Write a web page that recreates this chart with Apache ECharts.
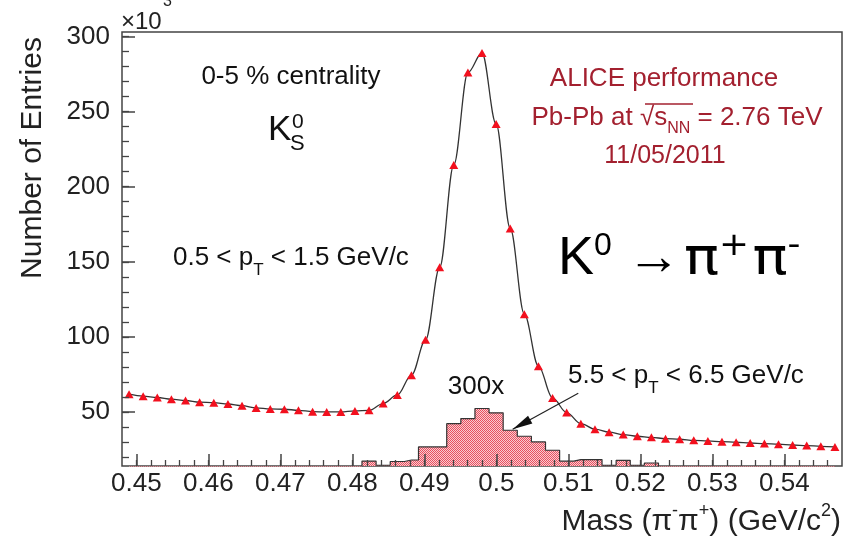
<!DOCTYPE html>
<html><head><meta charset="utf-8">
<script src="https://cdn.jsdelivr.net/npm/echarts@6/dist/echarts.min.js"></script>
<style>html,body{margin:0;padding:0;background:#fff}#c{width:854px;height:539px}</style>
</head><body><div id="c"></div>
<script>
// ---- data (x = pi-pi+ invariant mass, GeV/c^2; y in units of 10^3 entries) ----
const massBins = [0.44898,0.45094,0.45290,0.45486,0.45682,0.45878,0.46075,0.46271,0.46467,0.46663,
  0.46859,0.47055,0.47251,0.47447,0.47643,0.47839,0.48035,0.48231,0.48427,0.48624,
  0.48820,0.49016,0.49212,0.49408,0.49604,0.49800,0.49996,0.50192,0.50388,0.50584,
  0.50780,0.50976,0.51173,0.51369,0.51565,0.51761,0.51957,0.52153,0.52349,0.52545,
  0.52741,0.52937,0.53133,0.53329,0.53525,0.53722,0.53918,0.54114,0.54310,0.54506,0.54702];
// 0.5 < pT < 1.5 GeV/c (red triangles + fit)
const lowPtEntries = [61.8,60.5,59.6,58.5,57.6,56.5,56.2,55.3,54.2,52.7,
  52.0,51.8,51.1,50.2,50.0,50.0,50.7,51.1,55.6,61.3,
  74.5,98.0,146.3,214.5,276.0,289.0,241.8,172.2,115.1,80.5,
  59.3,49.6,42.2,38.5,36.5,34.9,33.8,33.1,32.2,31.8,
  31.1,30.7,30.2,29.8,29.3,28.9,28.5,28.0,27.6,27.1,26.7];
// 5.5 < pT < 6.5 GeV/c, scaled 300x (hatched histogram)
const highPtScaled = [0,0,0,0,0,0,0,0,0,0,
  0,0,0,0,0,0,0,17.3,14.5,17.0,
  18.0,26.7,26.7,42.2,45.6,52.3,49.4,37.8,33.8,30.0,
  24.5,17.2,18.3,18.3,14.5,17.8,14.5,16.0,0,0,
  0,0,0,0,0,0,0,0,0,0,0];
const xTickLabels = [0.45,0.46,0.47,0.48,0.49,0.5,0.51,0.52,0.53,0.54];
const yTickLabels = [50,100,150,200,250,300];
const xMinorTicks = []; for (let m = 450; m <= 546; m += 2) xMinorTicks.push(m / 1000);
const yMinorTicks = []; for (let v = 20; v <= 300; v += 10) yMinorTicks.push(v);
// arrow annotation (data coords): from label to histogram
const arrowFrom = [0.51137, 62.5];
const arrowTo = [0.50226, 38.5];

const FONT = '"Liberation Sans", Arial, Helvetica, sans-serif';
const RED_TXT = '#a3202f';

// hatched fill pattern
const pat = document.createElement('canvas');
pat.width = 2; pat.height = 2;
const pctx = pat.getContext('2d');
pctx.fillStyle = '#f9ccd1'; pctx.fillRect(0,0,2,2);
pctx.fillStyle = '#e8505f'; pctx.fillRect(0,0,1,1); pctx.fillRect(1,1,1,1);

const chart = echarts.init(document.getElementById('c'), null, {renderer:'canvas'});

function txt(x, y, text, size, opt) {
  opt = opt || {};
  return {type:'text', x:x, y:y, z:100, rotation: opt.rotation || 0,
    style:Object.assign({text:text, fontSize:size, fontFamily:FONT, fill: opt.fill || '#111',
      align: opt.align || 'left', verticalAlign:'middle',
      textAlign: opt.align || 'left', textVerticalAlign:'middle'}, opt.style || {})};
}
function rich(base, small, lh, fill, extra, family) {
  const f = family || FONT;
  const r = {
    n:{fontSize:base, fontFamily:f, fill:fill, color:fill, lineHeight:lh, verticalAlign:'middle'},
    sub:{fontSize:small, fontFamily:f, fill:fill, color:fill, lineHeight:lh, verticalAlign:'bottom'},
    sup:{fontSize:small, fontFamily:f, fill:fill, color:fill, lineHeight:lh, verticalAlign:'top'}
  };
  return Object.assign(r, extra || {});
}
function richText(x, y, text, base, small, lh, fill, align, extra, scaleX, family) {
  return {type:'text', x:x, y:y, z:100, scaleX: scaleX || 1, style:{text:text, rich:rich(base, small, lh, fill, extra, family),
    fontSize:base, fontFamily:family || FONT, fill:fill, lineHeight:lh,
    align:align, verticalAlign:'middle', textAlign:align, textVerticalAlign:'middle'}};
}

const axisLabelStyle = {fontSize:26, fontFamily:FONT, color:'#222'};

const option = {
  animation:false,
  backgroundColor:'#fff',
  grid:{left:122, right:12, top:32, bottom:73, show:true, borderColor:'#444', borderWidth:1.5, backgroundColor:'transparent'},
  xAxis:[
    {type:'value', min:0.448, max:0.548, position:'bottom', z:10,
      axisLine:{show:false}, splitLine:{show:false},
      axisTick:{show:true, inside:true, length:12, customValues:xTickLabels, lineStyle:{color:'#444', width:1.5}},
      axisLabel:Object.assign({show:true, margin:5, customValues:xTickLabels, formatter:v => String(v)}, axisLabelStyle)},
    {type:'value', min:0.448, max:0.548, position:'bottom', z:10,
      axisLine:{show:false}, splitLine:{show:false}, axisLabel:{show:false},
      axisTick:{show:true, inside:true, length:6, customValues:xMinorTicks, lineStyle:{color:'#444', width:1.3}}}
  ],
  yAxis:[
    {type:'value', min:14, max:303, position:'left', z:10,
      axisLine:{show:false}, splitLine:{show:false},
      axisTick:{show:true, inside:true, length:13, customValues:yTickLabels, lineStyle:{color:'#444', width:1.5}},
      axisLabel:Object.assign({show:true, margin:12, customValues:yTickLabels}, axisLabelStyle)},
    {type:'value', min:14, max:303, position:'left', z:10,
      axisLine:{show:false}, splitLine:{show:false}, axisLabel:{show:false},
      axisTick:{show:true, inside:true, length:7, customValues:yMinorTicks, lineStyle:{color:'#444', width:1.3}}}
  ],
  series:[
    {type:'line', name:'5.5<pT<6.5 x300', xAxisIndex:0, yAxisIndex:0, z:2,
      data: massBins.map((m,i) => [m, highPtScaled[i]]),
      step:'middle', symbol:'none', clip:true,
      lineStyle:{color:'#333', width:1.2},
      areaStyle:{color:{image:pat, repeat:'repeat'}, opacity:1, origin:'start'},
      markLine:{silent:true, symbol:['none','none'],
        lineStyle:{color:'#222', width:1.2, type:'solid'}, label:{show:false},
        emphasis:{disabled:true},
        data:[[{coord:arrowFrom}, {coord:arrowTo}]]}},
    {type:'line', name:'0.5<pT<1.5', xAxisIndex:0, yAxisIndex:0, z:3,
      data: massBins.map((m,i) => [m, lowPtEntries[i]]),
      smooth:0.35, smoothMonotone:'x', symbol:'triangle', symbolSize:[9,8], showSymbol:true,
      itemStyle:{color:'#f2101e', borderWidth:0},
      lineStyle:{color:'#333', width:1.3}}
  ],
  graphic:[
    txt(121, 22, '×10', 24, {fill:'#222'}),
    txt(163, 2, '3', 16, {fill:'#222'}),
    txt(33, 158, 'Number of Entries', 30, {align:'center', rotation:Math.PI/2, fill:'#222'}),
    richText(841, 522, '{n|Mass (π}{sup|-}{n|π}{sup|+}{n|) (GeV/c}{sup|2}{n|)}', 30, 18, 40, '#222', 'right'),
    txt(291, 77, '0-5 % centrality', 26, {align:'center'}),
    txt(268, 130, 'K', 35),
    txt(292, 122, '0', 21),
    txt(290, 144, 'S', 22),
    richText(173, 258, '{n|0.5 < p}{sub|T}{n| < 1.5 GeV/c}', 26, 17, 42, '#111', 'left'),
    txt(664, 79, 'ALICE performance', 26, {align:'center', fill:RED_TXT}),
    richText(677, 118, '{n|Pb-Pb at √s}{sub|NN}{n| = 2.76 TeV}', 26, 16, 38, RED_TXT, 'center'),
    {type:'line', z:100, shape:{x1:645, y1:104, x2:693, y2:104}, style:{stroke:RED_TXT, lineWidth:1.5}},
    txt(665, 156, '11/05/2011', 25, {align:'center', fill:RED_TXT}),
    richText(558, 259, '{n|K}{sup|0}{n| →}', 54, 32, 58, '#000', 'left'),
    richText(684, 260, '{n|π}{sup|+}{n|π}{sup|-}', 52, 32, 58, '#000', 'left',
      {sup:{fontSize:32, fontFamily:'"DejaVu Sans", sans-serif', fill:'#000', color:'#000', lineHeight:58, verticalAlign:'top', padding:[0,3,0,0]}},
      1.12, '"DejaVu Sans", sans-serif'),
    txt(476, 387, '300x', 26, {align:'center'}),
    richText(568, 376, '{n|5.5 < p}{sub|T}{n| < 6.5 GeV/c}', 26, 17, 42, '#111', 'left')
  ]
};
chart.setOption(option);

// arrowhead drawn at the data-space arrow tip, oriented along the arrow
const pFrom = chart.convertToPixel({xAxisIndex:0, yAxisIndex:0}, arrowFrom);
const pTo = chart.convertToPixel({xAxisIndex:0, yAxisIndex:0}, arrowTo);
const dx = pFrom[0] - pTo[0], dy = pFrom[1] - pTo[1];
const len = Math.sqrt(dx*dx + dy*dy), ux = dx/len, uy = dy/len;
const headL = 20, headW = 4.5;
const bx = pTo[0] + ux*headL, by = pTo[1] + uy*headL;
chart.setOption({graphic:[{id:'arrowhead', type:'polygon', z:100,
  shape:{points:[[pTo[0], pTo[1]], [bx - uy*headW, by + ux*headW], [bx + uy*headW, by - ux*headW]]},
  style:{fill:'#111'}}]});
</script></body></html>
